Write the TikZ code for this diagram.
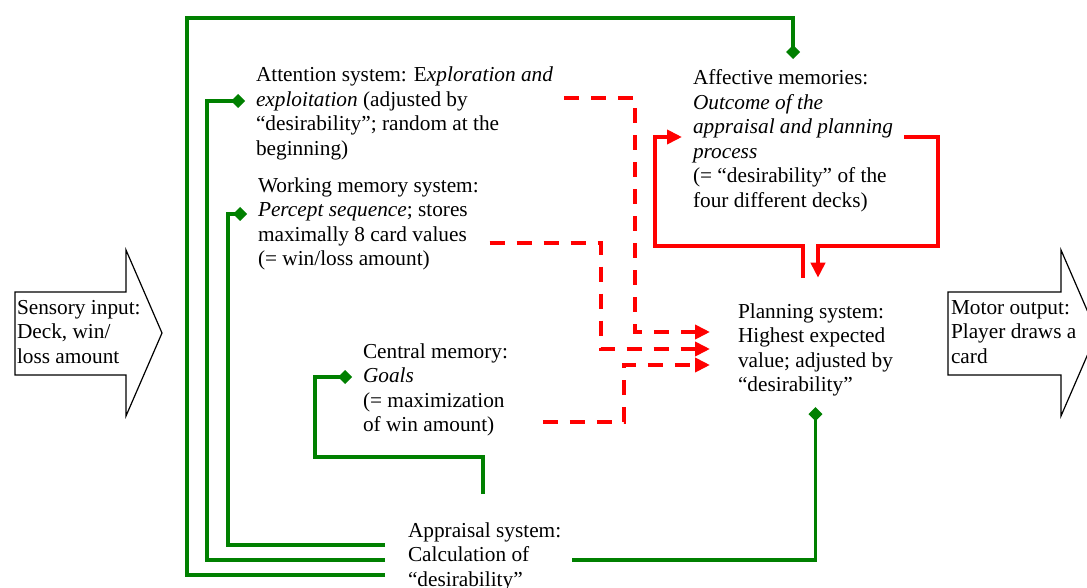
\documentclass[tikz,border=0pt]{standalone}
\usepackage{fontspec}
\setmainfont{Liberation Serif}
\usetikzlibrary{arrows.meta}
\definecolor{leafgreen}{RGB}{0,128,0}
\definecolor{signalred}{RGB}{255,0,0}

\begin{document}
\begin{tikzpicture}[x=1pt,y=-1pt,
	txt/.style={font=\fontsize{21.3}{24.5}\selectfont,align=left,inner sep=0pt,outer sep=11pt,anchor=base west},
	gline/.style={draw=leafgreen,line width=3.8pt,-{Diamond[length=14pt,width=14pt]}},
	rdash/.style={draw=signalred,line width=3.8pt,dash pattern=on 15pt off 12pt,-{Triangle[length=15pt,width=14pt]}},
	rline/.style={draw=signalred,line width=3.8pt,-{Triangle[length=15pt,width=14pt]}},
	bigarrow/.style={draw=black,line width=1.2pt,fill=white}]
	\useasboundingbox (0,0) rectangle (1087,588);

	%IN AND OUT ARROWS
	\draw[bigarrow] (15,292)--(126,292)--(126,250)--(162,333)--(126,416)--(126,375)--(15,375)--cycle;
	\draw[bigarrow] (948,292)--(1061,292)--(1061,250)--(1097,333)--(1061,416)--(1061,375)--(948,375)--cycle;

	%SYSTEMS (placed at the baseline of their last line)
	\node[txt] (att) at (245,155.5) {Attention system: E\textit{xploration and}\\\textit{exploitation} (adjusted by\\“desirability”; random at the\\beginning)};
	\node[txt] (aff) at (682,207.5) {Affective memories:\\\textit{Outcome of the}\\\textit{appraisal and planning}\\\textit{process}\\(= “desirability” of the\\four different decks)};
	\node[txt] (wm) at (247,265.5) {Working memory system:\\\textit{Percept sequence}; stores\\maximally 8 card values\\(= win/loss amount)};
	\node[txt] (cm) at (352,431.5) {Central memory:\\\textit{Goals}\\(= maximization\\of win amount)};
	\node[txt,outer xsep=28pt] (pl) at (710,391.5) {Planning system:\\Highest expected\\value; adjusted by\\“desirability”};
	\node[txt] (appr) at (397,586) {Appraisal system:\\Calculation of\\“desirability”};
	\node[txt] (sens) at (6,363) {Sensory input:\\Deck, win/\\loss amount};
	\node[txt] (mot) at (940,363) {Motor output:\\Player draws a\\card};

	%GREEN FEEDBACK FROM APPRAISAL
	\draw[gline] ([xshift=-12pt]appr.west |- 0,575) -| (187,18) -| (aff.north);
	\foreach \yy/\xx/\ty/\n in {560/207/101/att,545/228/214/wm}{
		\draw[gline] ([xshift=-12pt]appr.west |- 0,\yy) -| (\xx,\ty) -- (\n.west |- 0,\ty); %to left column
	}
	\draw[gline] ([yshift=17pt]appr.north -| 483,0) |- (315,457) |- (cm.west |- 0,377);
	\draw[gline] (appr.east |- 0,560) -| (pl.south);

	%RED DASHED INTO PLANNING
	\draw[rdash] (att.east |- 0,98) -| (635,332) -- (pl.west |- 0,332);
	\draw[rdash] (wm.east |- 0,243) -| (601,349) -- (pl.west |- 0,349);
	\draw[rdash] ([xshift=24pt]cm.east |- 0,422) -| (624,365) -- (pl.west |- 0,365);

	%RED LOOP WITH AFFECTIVE MEMORIES
	\draw[rline] ([yshift=14.5pt]pl.north -| 803,0) |- (655,246) |- (aff.west |- 0,137);
	\draw[rline] (aff.east |- 0,137) -| (938,246) -| ([yshift=14.5pt]pl.north -| 818,0);
\end{tikzpicture}
\end{document}
